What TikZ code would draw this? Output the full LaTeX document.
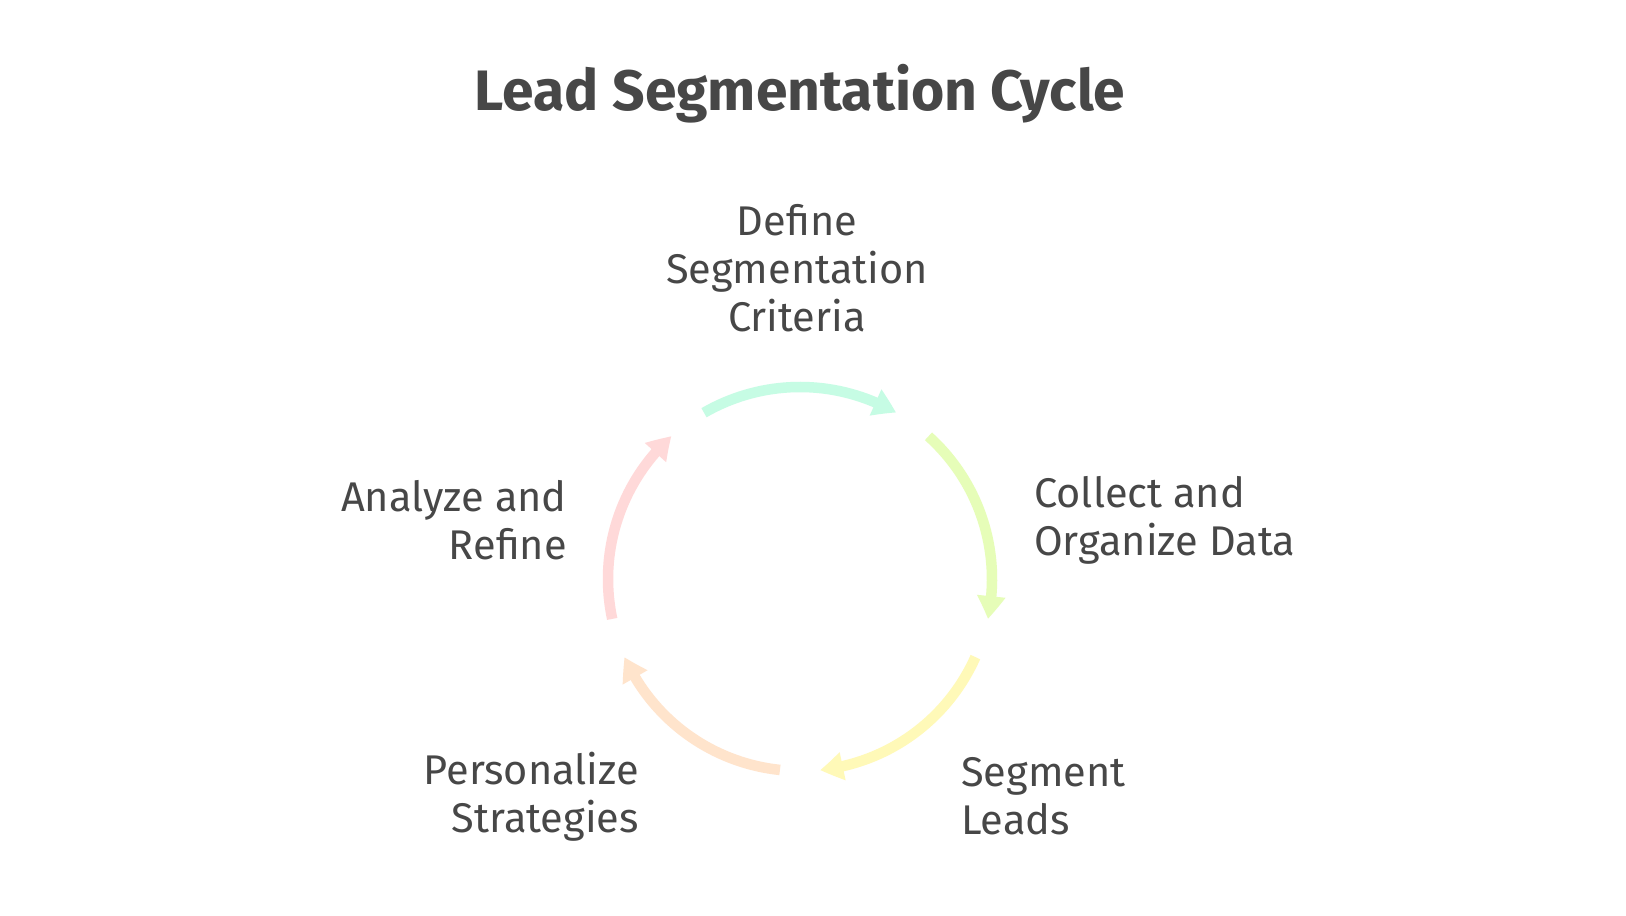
\documentclass[tikz,border=0pt]{standalone}
\usepackage{fontspec}
\setmainfont{Fira Sans}
\usetikzlibrary{arrows.meta,calc,bending}
\definecolor{txt}{HTML}{474747}
\definecolor{cA}{HTML}{C6FCE4}
\definecolor{cB}{HTML}{E6FDB8}
\definecolor{cC}{HTML}{FFF9B8}
\definecolor{cD}{HTML}{FFE4CC}
\definecolor{cE}{HTML}{FFD9D9}
\tikzset{
  lbl/.style={text=txt, font=\fontsize{41.5}{48}\selectfont, inner sep=0pt},
  cyc/.style={line width=10.5pt, -{Triangle[width=27pt,length=23pt,bend]}},
}
\begin{document}
\begin{tikzpicture}[x=1pt,y=1pt]
\fill[white] (0,0) rectangle (1626,916);
\useasboundingbox (0,0) rectangle (1626,916);
\node[text=txt, font=\fontsize{57}{64}\selectfont\bfseries, anchor=base] (title) at (800,805) {Lead Segmentation Cycle};
\coordinate (c) at (800,337);
\node[lbl, align=center] (define) at (797,648) {Define\\Segmentation\\Criteria};
\node[lbl, align=left, anchor=west] (collect) at (1034,395.5) {Collect and\\Organize Data};
\node[lbl, align=left, anchor=west] (segment) at (961,119.5) {Segment\\Leads};
\node[lbl, align=right, anchor=east] (personal) at (639,119.5) {Personalize\\Strategies};
\node[lbl, align=right, anchor=east] (analyze) at (567,395.5) {Analyze and\\Refine};
\coordinate (s1) at ($(c)+(120:192)$);
\coordinate (s2) at ($(c)+(48:192)$);
\coordinate (s3) at ($(c)+(-24:192)$);
\coordinate (s4) at ($(c)+(-96:192)$);
\coordinate (s5) at ($(c)+(-168:192)$);
\draw[cyc, draw=cA] (s1) arc[start angle=120, end angle=60, radius=192];
\draw[cyc, draw=cB] (s2) arc[start angle=48, end angle=-12, radius=192];
\draw[cyc, draw=cC] (s3) arc[start angle=-24, end angle=-84, radius=192];
\draw[cyc, draw=cD] (s4) arc[start angle=-96, end angle=-156, radius=192];
\draw[cyc, draw=cE] (s5) arc[start angle=-168, end angle=-228, radius=192];
\end{tikzpicture}
\end{document}
